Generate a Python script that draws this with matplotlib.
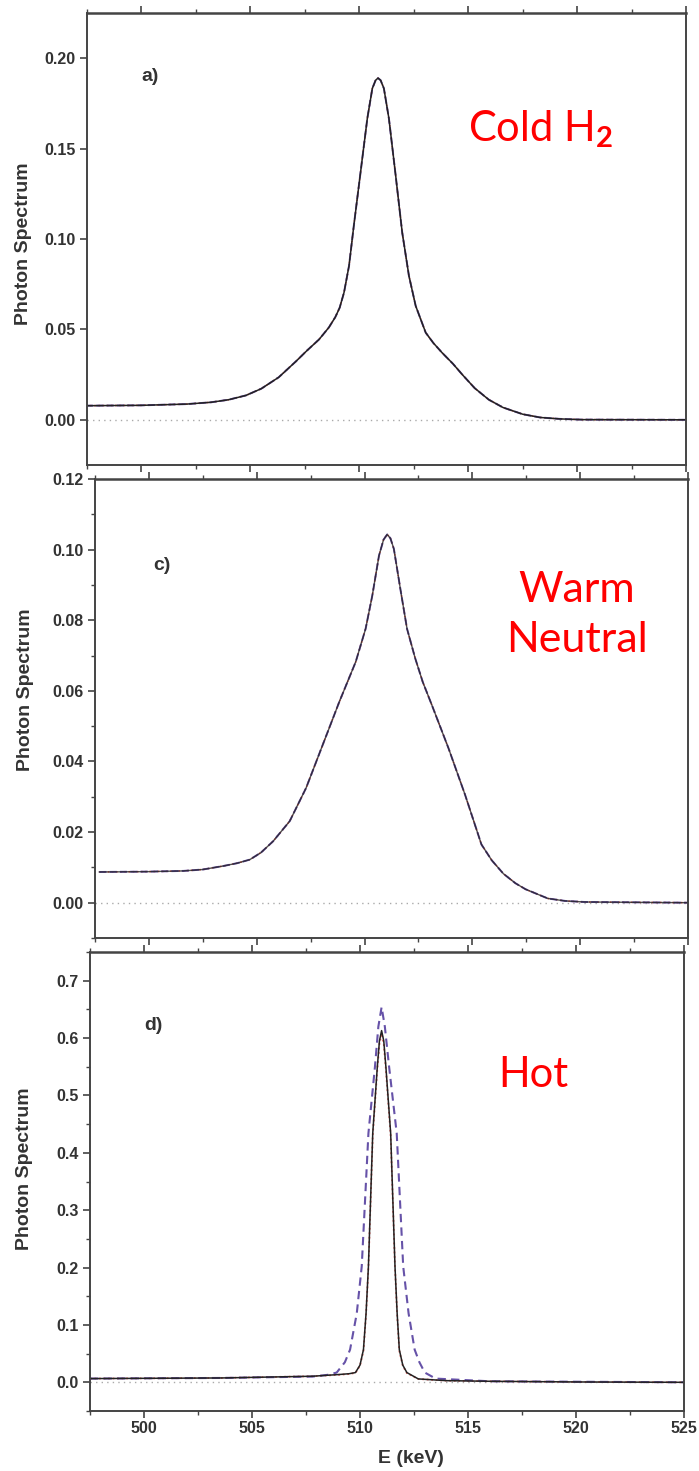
import numpy as np
import matplotlib.pyplot as plt
from matplotlib.ticker import MultipleLocator, FormatStrFormatter

plt.rcParams.update({
    "font.family": "Liberation Sans",
    "font.weight": "bold",
    "mathtext.fontset": "custom",
    "mathtext.rm": "Lato",
    "mathtext.it": "Lato",
})

# panel a) cold H2
cold_E = [497.45, 500.0, 502.1, 503.2, 504.0, 504.8, 505.5, 506.3, 507.1, 507.6,
          508.15, 508.6, 508.9, 509.1, 509.3, 509.53, 509.75, 510.06, 510.37, 510.6,
          510.75, 510.86, 510.98, 511.13, 511.36, 511.67, 511.97, 512.28, 512.59, 513.05,
          513.4, 513.81, 514.3, 514.73, 515.3, 515.95, 516.6, 517.5, 518.3, 519.2,
          520.2, 525.0]
cold_I = [0.0078, 0.0080, 0.0087, 0.0097, 0.0111, 0.0135, 0.0172, 0.0235, 0.0324, 0.0383,
          0.0444, 0.0510, 0.0568, 0.0620, 0.0704, 0.0852, 0.1074, 0.1370, 0.1667, 0.1833,
          0.1878, 0.1890, 0.1878, 0.1833, 0.1667, 0.1352, 0.1037, 0.0796, 0.0630, 0.0482,
          0.0425, 0.0370, 0.0310, 0.0250, 0.0175, 0.0111, 0.0068, 0.0031, 0.0013, 0.0005,
          0.0001, 0.0000]

# panel c) warm neutral
warm_E = [497.7, 500.0, 501.6, 502.5, 503.46, 504.1, 504.68, 505.2, 505.76, 506.53,
          507.29, 508.06, 508.83, 509.59, 510.05, 510.36, 510.67, 510.88, 511.05, 511.2,
          511.36, 511.66, 511.97, 512.35, 512.7, 513.12, 513.89, 514.66, 515.42, 515.9,
          516.44, 517.0, 517.47, 518.5, 519.3, 520.2, 525.0]
warm_I = [0.0087, 0.0088, 0.0090, 0.0094, 0.0104, 0.0112, 0.0122, 0.0142, 0.0174, 0.0231,
          0.0325, 0.0447, 0.0569, 0.0682, 0.0776, 0.0870, 0.0983, 0.1028, 0.1043, 0.1032,
          0.1002, 0.0889, 0.0776, 0.0692, 0.0625, 0.0560, 0.0438, 0.0306, 0.0165, 0.0120,
          0.0082, 0.0055, 0.0038, 0.0012, 0.0005, 0.0002, 0.0000]

# panel d) hot
hot_E = [497.5, 503.6, 507.8, 509.0, 509.5, 509.79, 510.0, 510.16, 510.28, 510.39,
         510.59, 510.8, 510.9, 511.0, 511.1, 511.2, 511.42, 511.62, 511.72, 511.82,
         511.98, 512.17, 512.7, 514.0, 516.0, 520.1, 525.0]
hot_solid = [0.0065, 0.0076, 0.0106, 0.0135, 0.0150, 0.0170, 0.0300, 0.0570, 0.1200, 0.2020,
             0.4340, 0.5490, 0.5950, 0.6130, 0.5950, 0.5490, 0.4340, 0.2020, 0.1200, 0.0570,
             0.0300, 0.0170, 0.0059, 0.0029, 0.0018, 0.0006, 0.0000]
hot_dotted = [0.0065, 0.0076, 0.0106, 0.0130, 0.0145, 0.0165, 0.0290, 0.0550, 0.1180, 0.2000,
              0.4300, 0.5450, 0.5900, 0.6080, 0.5900, 0.5450, 0.4300, 0.2000, 0.1180, 0.0550,
              0.0290, 0.0160, 0.0058, 0.0029, 0.0018, 0.0006, 0.0000]
hot_dash_E = [497.5, 503.6, 507.8, 508.5, 508.92, 509.3, 509.54, 509.85, 510.08, 510.39,
              510.69, 510.85, 511.0, 511.15, 511.35, 511.7, 512.0, 512.25, 512.53, 512.75,
              513.0, 513.5, 516.0, 525.0]
hot_dashed = [0.0065, 0.0076, 0.0100, 0.0130, 0.0170, 0.0350, 0.0570, 0.1200, 0.2020, 0.4340,
              0.5490, 0.6200, 0.6540, 0.6200, 0.5490, 0.4340, 0.2020, 0.1200, 0.0570, 0.0350,
              0.0170, 0.0065, 0.0018, 0.0000]

c_black = "#222222"
c_purple = "#6652a8"
c_red = "#e8605a"
c_axis = "#444444"
c_text = "#333333"

W, H = 699, 1471
fig = plt.figure(figsize=(W / 100, H / 100), dpi=100)


def make_axes(l, r, t, b):
    return fig.add_axes([l / W, 1 - b / H, (r - l) / W, (b - t) / H])


axa = make_axes(87, 686, 13, 465)
axc = make_axes(95, 688, 479, 938)
axd = make_axes(90, 684, 952, 1411)

for ax in (axa, axc, axd):
    ax.set_xlim(497.5, 525)
    ax.axhline(0, color="#aaaaaa", ls=(0, (1, 3)), lw=1, zorder=1)
    for s in ax.spines.values():
        s.set_color(c_axis)
        s.set_linewidth(1.4)
    ax.spines["top"].set_linewidth(1.8)
    ax.xaxis.set_major_locator(MultipleLocator(5))
    ax.xaxis.set_minor_locator(MultipleLocator(2.5))
    ax.tick_params(axis="x", which="both", direction="out", top=True, bottom=True,
                   color=c_axis, labelcolor=c_text, labelsize=11.5, pad=2)
    ax.tick_params(axis="x", which="major", length=5, width=1.2)
    ax.tick_params(axis="x", which="minor", length=3, width=1.0)
    ax.tick_params(axis="y", which="both", direction="out", right=False,
                   color=c_axis, labelcolor=c_text, labelsize=11.5, pad=3)
    ax.tick_params(axis="y", which="major", length=5, width=1.2)
    ax.tick_params(axis="y", which="minor", length=3, width=1.0)
    ax.set_ylabel("Photon Spectrum", fontsize=14, fontweight="bold", color=c_text)

# a)
axa.plot(cold_E, cold_I, color=c_red, ls=(0, (1, 1.5)), lw=1.2)
axa.plot(cold_E, cold_I, color=c_purple, ls="--", lw=1.4)
axa.plot(cold_E, cold_I, color=c_black, lw=1.1)
axa.set_ylim(-0.025, 0.225)
axa.yaxis.set_major_locator(MultipleLocator(0.05))
axa.yaxis.set_major_formatter(FormatStrFormatter("%.2f"))
axa.tick_params(axis="x", labelbottom=False)
axa.yaxis.set_label_coords(-0.092, 0.49)
axa.text(500.0, 0.19, "a)", fontsize=14, fontweight="bold", color=c_text, va="center")
axa.text(515.0, 0.154, "Cold H$_2$", fontsize=30, color="red", family="Lato",
         fontweight="normal", va="baseline")

# c)
axc.plot(warm_E, warm_I, color=c_red, ls=(0, (1, 1.5)), lw=1.2)
axc.plot(warm_E, warm_I, color=c_purple, ls="--", lw=1.4)
axc.plot(warm_E, warm_I, color=c_black, lw=1.0, alpha=0.8)
axc.set_ylim(-0.01, 0.12)
axc.yaxis.set_major_locator(MultipleLocator(0.02))
axc.yaxis.set_minor_locator(MultipleLocator(0.01))
axc.yaxis.set_major_formatter(FormatStrFormatter("%.2f"))
axc.tick_params(axis="x", labelbottom=False)
axc.yaxis.set_label_coords(-0.103, 0.54)
axc.text(500.2, 0.0954, "c)", fontsize=14, fontweight="bold", color=c_text, va="center")
axc.text(519.85, 0.0709, "Warm\nNeutral", fontsize=31, color="red", family="Lato",
         fontweight="normal", ha="center", va="baseline", multialignment="center",
         linespacing=1.4)

# d)
axd.plot(hot_E, hot_dotted, color=c_red, ls=(0, (1, 1.5)), lw=1.3)
axd.plot(hot_dash_E, hot_dashed, color=c_purple, ls=(0, (4, 2.5)), lw=1.5)
axd.plot(hot_E, hot_solid, color=c_black, lw=1.1)
axd.set_ylim(-0.05, 0.75)
axd.yaxis.set_major_locator(MultipleLocator(0.1))
axd.yaxis.set_minor_locator(MultipleLocator(0.05))
axd.yaxis.set_major_formatter(FormatStrFormatter("%.1f"))
axd.yaxis.set_label_coords(-0.096, 0.527)
axd.set_xlabel("E (keV)", fontsize=14, fontweight="bold", color=c_text)
axd.xaxis.set_label_coords(0.54, -0.085)
axd.text(500.0, 0.622, "d)", fontsize=14, fontweight="bold", color=c_text, va="center")
axd.text(516.4, 0.515, "Hot", fontsize=30, color="red", family="Lato",
         fontweight="normal", va="baseline")

fig.savefig("out.png", dpi=100)
